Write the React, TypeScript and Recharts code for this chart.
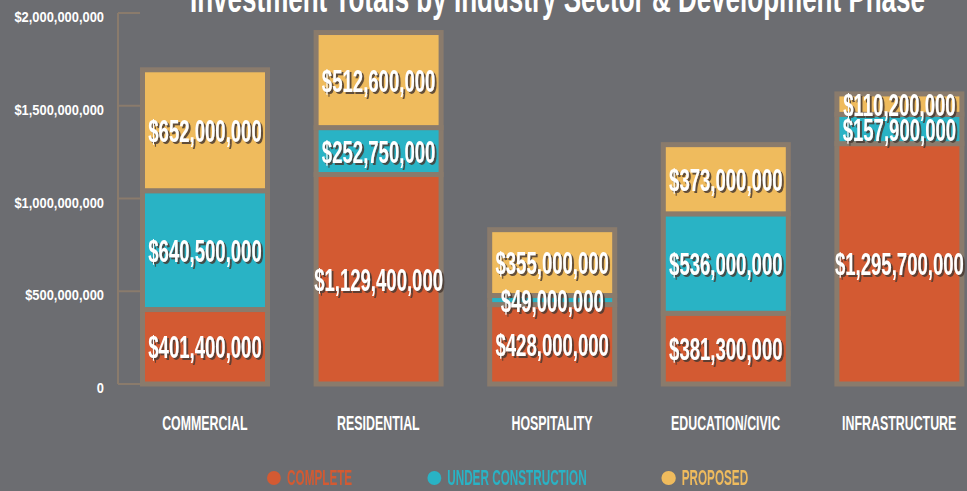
import React from 'react';
import { BarChart, Bar, XAxis, YAxis, Legend, LabelList } from 'recharts';

const categories = ['COMMERCIAL', 'RESIDENTIAL', 'HOSPITALITY', 'EDUCATION/CIVIC', 'INFRASTRUCTURE'];
const complete = [401400000, 1129400000, 428000000, 381300000, 1295700000];
const underConstruction = [640500000, 252750000, 49000000, 536000000, 157900000];
const proposed = [652000000, 512600000, 355000000, 373000000, 110200000];
const yTicks = [0, 500000000, 1000000000, 1500000000, 2000000000];
const seriesNames = ['COMPLETE', 'UNDER CONSTRUCTION', 'PROPOSED'];
const title = 'Investment Totals by Industry Sector & Development Phase';

const BG = '#6c6d71';
const BORDER = '#8a7b6c';
const ORANGE = '#d35a32';
const TEAL = '#29b3c5';
const YELLOW = '#efbb5d';
const SHADOW = '#4a3a33';
const FONT = '"Liberation Sans", Arial, sans-serif';

const data = categories.map((c, i) => ({
  category: c,
  complete: complete[i],
  underConstruction: underConstruction[i],
  proposed: proposed[i],
}));

const legendItems = [
  { name: seriesNames[0], color: ORANGE },
  { name: seriesNames[1], color: TEAL },
  { name: seriesNames[2], color: YELLOW },
];

const fmtMoney = (v: number) => '$' + Number(v).toLocaleString('en-US');

const SegShape = (props: any) => {
  const { x, y, width, height, fill } = props;
  if (width == null || height == null) return null;
  const b = 5;
  const h = 2.5;
  return (
    <g>
      <rect x={x - b} y={y - h} width={width + 2 * b} height={height + 2 * h} fill={BORDER} />
      <rect x={x} y={y + h} width={width} height={Math.max(height - 2 * h, 0)} fill={fill} />
    </g>
  );
};

const ValueLabel = (props: any) => {
  const vb = props.viewBox || {};
  const x = props.x ?? vb.x;
  const y = props.y ?? vb.y;
  const width = props.width ?? vb.width;
  const height = props.height ?? vb.height;
  const value = props.value;
  if (value == null) return null;
  const cx = x + width / 2;
  const cy = y + height / 2;
  const txt = fmtMoney(value);
  return (
    <g transform={`translate(${cx},${cy}) scale(0.58,1)`} style={{ pointerEvents: 'none' }}>
      <text x={0} y={0} dy="0.36em" textAnchor="middle" fontFamily={FONT} fontWeight={700} fontSize={32} fill="#ffffff" filter="url(#labelShadow)">
        {txt}
      </text>
    </g>
  );
};

const YTick = (props: any) => {
  const { x, y, payload } = props;
  const v = payload.value;
  const label = v === 0 ? '0' : fmtMoney(v);
  return (
    <g>
      <line x1={x + 14} x2={x + 36} y1={y} y2={y} stroke={BORDER} strokeWidth={2} />
      <g transform={`translate(${x},${y}) scale(0.86,1)`}>
        <text x={0} y={0} dy={9} textAnchor="end" fontFamily={FONT} fontWeight={700} fontSize={15} fill="#ffffff">
          {label}
        </text>
      </g>
    </g>
  );
};

const XTick = (props: any) => {
  const { x, y, payload } = props;
  return (
    <g transform={`translate(${x},${y}) scale(0.59,1)`}>
      <text x={0} y={0} textAnchor="middle" fontFamily={FONT} fontWeight={700} fontSize={21} fill="#ffffff">
        {payload.value}
      </text>
    </g>
  );
};

const LegendContent = () => (
  <div style={{ paddingLeft: 267, paddingTop: 4, height: 30, boxSizing: 'border-box', display: 'flex', alignItems: 'center' }}>
    <div style={{ display: 'flex', alignItems: 'center', transform: 'scaleX(0.533)', transformOrigin: 'left center', whiteSpace: 'nowrap' }}>
      {legendItems.map((it, i) => (
        <div key={it.name} style={{ display: 'flex', alignItems: 'center', marginRight: i < legendItems.length - 1 ? 140.7 : 0 }}>
          <span style={{ display: 'inline-block', width: 26.3, height: 14, borderRadius: '50%', background: it.color, marginRight: 11.3 }} />
          <span style={{ color: it.color, fontFamily: FONT, fontWeight: 700, fontSize: 22, lineHeight: '22px' }}>{it.name}</span>
        </div>
      ))}
    </div>
  </div>
);

export default function App() {
  return (
    <div style={{ position: 'absolute', left: 0, top: 0, width: 967, height: 491, overflow: 'hidden', background: BG }}>
      <svg width={0} height={0} style={{ position: 'absolute' }}>
        <defs>
          <filter id="labelShadow" x="-10%" y="-30%" width="130%" height="170%">
            <feDropShadow dx={3.5} dy={2} stdDeviation={0.4} floodColor={SHADOW} floodOpacity={0.85} />
          </filter>
        </defs>
      </svg>
      <BarChart width={986} height={491} data={data} margin={{ top: 13, right: 0, bottom: 0, left: 0 }}>
        <XAxis
          dataKey="category"
          axisLine={false}
          tickLine={false}
          tickSize={0}
          tickMargin={46}
          height={77}
          interval={0}
          tick={<XTick />}
        />
        <YAxis
          domain={[0, 2000000000]}
          ticks={yTicks}
          interval={0}
          axisLine={{ stroke: BORDER, strokeWidth: 2 }}
          tickLine={false}
          tickSize={0}
          tickMargin={14}
          width={118}
          tick={<YTick />}
        />
        <Legend verticalAlign="bottom" height={30} content={<LegendContent />} />
        <Bar dataKey="complete" name={seriesNames[0]} stackId="a" fill={ORANGE} barSize={120} shape={<SegShape />} isAnimationActive={false}>
          <LabelList dataKey="complete" content={<ValueLabel />} />
        </Bar>
        <Bar dataKey="underConstruction" name={seriesNames[1]} stackId="a" fill={TEAL} barSize={120} shape={<SegShape />} isAnimationActive={false}>
          <LabelList dataKey="underConstruction" content={<ValueLabel />} />
        </Bar>
        <Bar dataKey="proposed" name={seriesNames[2]} stackId="a" fill={YELLOW} barSize={120} shape={<SegShape />} isAnimationActive={false}>
          <LabelList dataKey="proposed" content={<ValueLabel />} />
        </Bar>
      </BarChart>
      <svg width={967} height={40} style={{ position: 'absolute', left: 0, top: 0, pointerEvents: 'none' }}>
        <text x={190} y={12} textLength={735} lengthAdjust="spacingAndGlyphs" fontFamily={FONT} fontWeight={700} fontSize={40} fill="#ffffff">
          {title}
        </text>
      </svg>
    </div>
  );
}
